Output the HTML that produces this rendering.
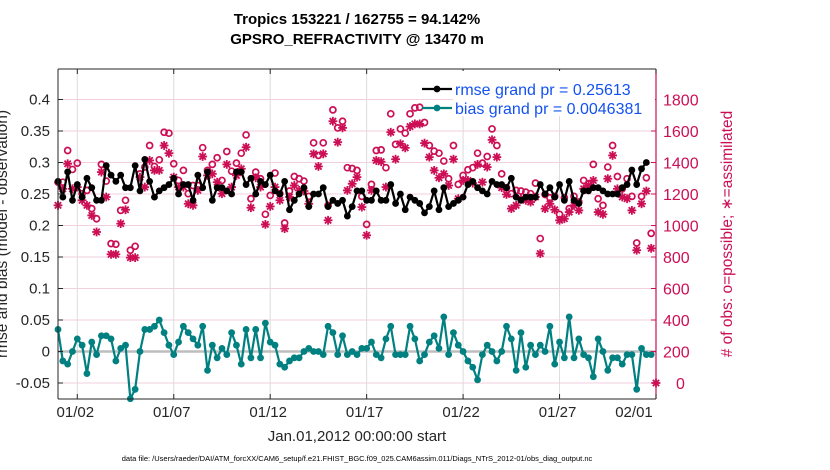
<!DOCTYPE html>
<html><head><meta charset="utf-8"><style>
html,body{margin:0;padding:0;background:#fff;}
svg{display:block;font-family:"Liberation Sans",sans-serif;}
</style></head><body>
<svg id="chart" width="830" height="470" viewBox="0 0 830 470" xmlns="http://www.w3.org/2000/svg"></svg>
<script>
// ---- data ----
const tickDays = [1,6,11,16,21,26,31];
const tickLabels = ["01/02","01/07","01/12","01/17","01/22","01/27","02/01"];
const leftTicks = [-0.05,0,0.05,0.1,0.15,0.2,0.25,0.3,0.35,0.4];
const leftTickLabels = ["-0.05","0","0.05","0.1","0.15","0.2","0.25","0.3","0.35","0.4"];
const rightTicks = [0,200,400,600,800,1000,1200,1400,1600,1800];
const rmse = [0.27,0.245,0.285,0.24,0.265,0.245,0.275,0.26,0.24,0.24,0.295,0.28,0.27,0.28,0.26,0.26,0.295,0.255,0.305,0.27,0.245,0.255,0.26,0.265,0.275,0.25,0.265,0.265,0.24,0.28,0.26,
0.285,0.24,0.26,0.26,0.255,0.25,0.285,0.285,0.265,0.275,0.25,0.27,0.265,0.28,0.255,0.25,0.27,0.225,0.24,0.25,0.26,0.23,0.25,0.25,0.26,0.23,0.24,0.235,0.24,0.215,
0.23,0.255,0.255,0.24,0.24,0.255,0.24,0.24,0.265,0.235,0.25,0.225,0.245,0.24,0.235,0.22,0.23,0.255,0.225,0.26,0.23,0.235,0.24,0.245,0.265,0.27,0.26,0.255,0.25,0.27,
0.265,0.265,0.26,0.275,0.245,0.24,0.245,0.245,0.245,0.265,0.25,0.26,0.245,0.265,0.24,0.27,0.24,0.235,0.255,0.255,0.26,0.26,0.255,0.25,0.25,0.25,0.26,0.265,0.288,0.265,0.29,0.3];
const bias = [0.035,-0.015,-0.02,0,0.02,0.01,-0.035,0.015,-0.005,0.025,0.025,0.02,-0.015,0.005,0.01,-0.075,-0.06,0,0.035,0.035,0.04,0.05,0.03,0.01,-0.005,0.015,0.04,0.03,0.02,0.01,0.04,
-0.03,0.01,-0.01,0.005,-0.005,0.03,0.01,-0.02,0.035,-0.01,0.035,-0.01,0.045,0.015,0.01,-0.02,-0.025,-0.015,-0.01,-0.01,0,0.005,0,0,-0.005,0.04,0.03,-0.005,0.025,-0.005,
0,-0.005,0.005,0.005,0.015,-0.005,-0.01,0.02,0.04,-0.005,-0.005,-0.005,0.04,0.02,-0.015,-0.005,0.015,0.025,0.005,0.055,-0.005,0.03,0.01,0,-0.015,-0.025,-0.045,-0.005,0.01,0,
-0.015,0,0.04,0.02,-0.03,0.03,-0.025,0.01,-0.005,0.01,0,0.04,-0.02,0.015,-0.01,0.055,-0.01,0.02,-0.005,-0.01,-0.04,0.02,0,-0.03,-0.01,-0.01,-0.02,-0.005,-0.005,-0.06,0.005,-0.005,-0.005];
const possible = [1275,1275,1476,1356,1396,1202,1223,1107,1043,1388,1282,885,881,1096,1160,843,868,1328,1371,1508,1375,1417,1592,1586,1392,1286,1350,1202,1254,1254,1494,
1350,1388,1430,1286,1470,1345,1396,1459,1575,1170,1339,1297,1071,1191,1333,1202,1016,1219,1311,1297,1282,1185,1525,1445,1525,1128,1734,1620,1662,1367,
1362,1350,1185,1007,1261,1476,1480,1367,1709,1515,1613,1586,1709,1747,1751,1654,1508,1472,1459,1409,1297,1508,1261,1318,1354,1367,1459,1396,1438,1613,
1508,1328,1240,1202,1223,1219,1212,1202,1269,917,1197,1176,1185,1071,1176,1107,1185,1149,1286,1265,1388,1170,1128,1371,1508,1311,1233,1297,1185,889,1185,1303,950];
const assimilated = [1128,1233,1392,1233,1244,1160,1128,1064,959,1339,1181,817,817,1012,1100,796,796,1307,1244,1413,1350,1350,1508,1459,1307,1244,1244,1138,1128,1223,1438,
1318,1328,1275,1202,1388,1244,1318,1360,1497,1113,1303,1244,1007,1121,1244,1160,980,1181,1254,1223,1219,1138,1455,1375,1455,1033,1662,1529,1620,1223,
1265,1307,1117,938,1223,1413,1405,1244,1592,1421,1519,1493,1628,1645,1645,1523,1434,1350,1303,1328,1254,1421,1170,1286,1286,1269,1388,1275,1371,1544,
1434,1240,1197,1107,1128,1170,1160,1149,1181,822,1107,1138,1100,1033,1043,1085,1128,1096,1233,1254,1286,1085,1071,1297,1445,1233,1181,1170,1096,843,1138,1219,855];
const stepDays = 0.25;

// ---- layout ----
const L=58, R=656, T=69, B=399;
const MAG="#cc0f55", TEAL="#008080", TXT="#262626";
const xS = d => L + d*(R-L)/31;
const yL = v => 351.5 - v*31.5/0.05;
const yR = v => 383 - v*31.5/200;
const svg = document.getElementById('chart');
const NS="http://www.w3.org/2000/svg";
function mk(tag, attrs, parent){ const e=document.createElementNS(NS,tag); for(const k in attrs) e.setAttribute(k,attrs[k]); (parent||svg).appendChild(e); return e; }

// titles
let t=mk('text',{x:357,y:24,'text-anchor':'middle','font-size':15,'font-weight':'bold',fill:'#000'});t.textContent="Tropics 153221 / 162755 = 94.142%";


t=mk('text',{x:357,y:44,'text-anchor':'middle','font-size':15,'font-weight':'bold',fill:'#000'});t.textContent="GPSRO_REFRACTIVITY @ 13470 m";



// plot bg
const bg=mk('rect',{x:L,y:T,width:R-L,height:B-T,fill:'#fff'});



// gridlines
const grid=mk('g',{});


rightTicks.forEach(v=>{ mk('line',{x1:L,x2:R,y1:yR(v),y2:yR(v),stroke:'#f2cfdc','stroke-width':1},grid); });
tickDays.forEach(d=>{ mk('line',{x1:xS(d),x2:xS(d),y1:T,y2:B,stroke:'#dcdcdc','stroke-width':1},grid); });
const zl=mk('line',{x1:L,x2:R,y1:yL(0),y2:yL(0),stroke:'#bdbdbd','stroke-width':2.5});



// obs markers
const obsG=mk('g',{});


function star(cx,cy,g){ const r=4.4, d=r*0.72;
  const s=mk('g',{stroke:MAG,'stroke-width':1.8},g);
  mk('line',{x1:cx-r,x2:cx+r,y1:cy,y2:cy},s); mk('line',{x1:cx,x2:cx,y1:cy-r,y2:cy+r},s);
  mk('line',{x1:cx-d,x2:cx+d,y1:cy-d,y2:cy+d},s); mk('line',{x1:cx-d,x2:cx+d,y1:cy+d,y2:cy-d},s); return s; }
possible.forEach((v,i)=>{ const c=mk('circle',{cx:xS(i*stepDays),cy:yR(v),r:3,fill:'none',stroke:MAG,'stroke-width':1.7},obsG);
  
   });
assimilated.forEach((v,i)=>{ const s=star(xS(i*stepDays),yR(v),obsG);
  
   });

function series(vals,color,name){
  const g=mk('g',{});
  
  
  mk('polyline',{points:vals.map((v,i)=>xS(i*stepDays)+','+yL(v)).join(' '),fill:'none',stroke:color,'stroke-width':2.2,'stroke-linejoin':'round'},g);
  vals.forEach((v,i)=>{ const c=mk('circle',{cx:xS(i*stepDays),cy:yL(v),r:3.4,fill:color},g);
    
     });
}
series(rmse,'#000','rmse-series');
series(bias,TEAL,'bias-series');

const offm=star(R,yR(0),svg);


mk('circle',{cx:R,cy:yR(0),r:2.5,fill:MAG});

// axes
const ax=mk('g',{});


mk('line',{x1:L,x2:L,y1:T,y2:B,stroke:TXT,'stroke-width':1},ax);
mk('line',{x1:L,x2:R,y1:T,y2:T,stroke:TXT,'stroke-width':1},ax);
mk('line',{x1:L,x2:R,y1:B,y2:B,stroke:TXT,'stroke-width':1},ax);
mk('line',{x1:R,x2:R,y1:T,y2:B,stroke:MAG,'stroke-width':1.2},ax);
leftTicks.forEach((v,i)=>{ mk('line',{x1:L,x2:L+5,y1:yL(v),y2:yL(v),stroke:TXT},ax);
  const tx=mk('text',{x:L-8,y:yL(v)+5,'text-anchor':'end','font-size':15,fill:TXT},ax); tx.textContent=leftTickLabels[i];
  
   });
rightTicks.forEach(v=>{ mk('line',{x1:R-5,x2:R,y1:yR(v),y2:yR(v),stroke:MAG},ax);
  const tx=mk('text',{x:R+7,y:yR(v)+6,'text-anchor':'start','font-size':16,fill:MAG},ax); tx.textContent=String(v);
  if(v===0) tx.setAttribute('x',R+20);
  
   });
tickDays.forEach((d,i)=>{ mk('line',{x1:xS(d),x2:xS(d),y1:B,y2:B-5,stroke:TXT},ax); mk('line',{x1:xS(d),x2:xS(d),y1:T,y2:T+5,stroke:TXT},ax);
  const tx=mk('text',{x:xS(d)-(i===6?22:2),y:B+18,'text-anchor':'middle','font-size':15,fill:TXT},ax); tx.textContent=tickLabels[i];
  
   });

// axis titles
t=mk('text',{x:357,y:441,'text-anchor':'middle','font-size':15,fill:TXT});t.textContent="Jan.01,2012 00:00:00 start";


t=mk('text',{x:0,y:0,'text-anchor':'middle','font-size':15.5,fill:TXT,transform:'translate(7,234) rotate(-90)'});t.textContent="rmse and bias (model - observation)";


t=mk('text',{x:0,y:0,'text-anchor':'middle','font-size':15.5,fill:MAG,transform:'translate(732,234) rotate(-90)'});t.textContent="# of obs: o=possible; \u2217=assimilated";


t=mk('text',{x:357,y:461,'text-anchor':'middle','font-size':7.5,fill:'#000'});t.textContent="data file: /Users/raeder/DAI/ATM_forcXX/CAM6_setup/f.e21.FHIST_BGC.f09_025.CAM6assim.011/Diags_NTrS_2012-01/obs_diag_output.nc";



// legend
const lg=mk('g',{});


mk('rect',{x:453,y:71,width:R-454,height:45,fill:'#fff'},lg);
[["rmse grand pr = 0.25613",'#000',89],["bias grand pr = 0.0046381",TEAL,108]].forEach(([lab,c,y])=>{
  const e=mk('g',{},lg);
  
  
  mk('line',{x1:422,x2:452,y1:y,y2:y,stroke:c,'stroke-width':2.2},e);
  mk('circle',{cx:437,cy:y,r:3.4,fill:c},e);
  const tx=mk('text',{x:455,y:y+6,'font-size':16,fill:'#1352f0'},e); tx.textContent=lab;
});
</script>
</body></html>
